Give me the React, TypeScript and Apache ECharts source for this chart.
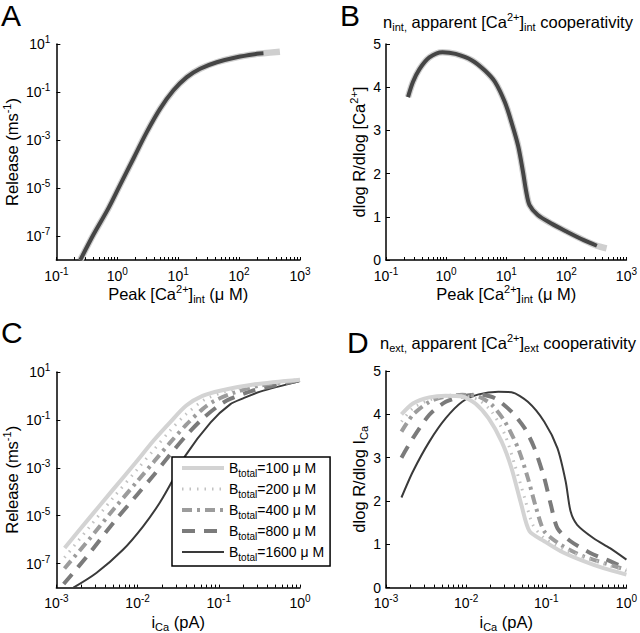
import React, { useEffect, useRef } from 'react';
import * as echarts from 'echarts';

const FONT = '"Liberation Sans", Arial, Helvetica, sans-serif';

// ---- Panel A: log10 peak [Ca2+]int (uM) vs log10 release (ms^-1)
const logPeakCaA = [-0.607, -0.388, -0.142, 0.049, 0.268, 0.486, 0.705, 0.923, 1.142, 1.36, 1.634, 1.96, 2.29, 2.4, 2.67];
const logReleaseA = [-8.0, -6.93, -5.83, -4.86, -3.76, -2.66, -1.69, -0.93, -0.38, -0.03, 0.24, 0.45, 0.59, 0.616, 0.68];
const darkEndLogA = 2.4;

// ---- Panel B: log10 peak [Ca2+]int vs n_int
const logPeakCaB = [-0.634, -0.552, -0.443, -0.279, -0.06, 0.158, 0.432, 0.65, 0.814, 0.978, 1.087, 1.197, 1.279, 1.333, 1.388, 1.525, 1.743, 2.016, 2.29, 2.508, 2.67];
const nIntB = [3.77, 4.12, 4.42, 4.69, 4.81, 4.77, 4.62, 4.38, 4.12, 3.65, 3.19, 2.65, 2.04, 1.58, 1.27, 1.04, 0.85, 0.65, 0.46, 0.33, 0.27];
const darkEndLogB = 2.508;

// ---- Panel C: log10 iCa (pA) vs log10 release, per B_total
const bTotals = [100, 200, 400, 800, 1600];
const logICaC100 = [-2.898, -2.6, -2.3, -2.028, -1.8, -1.6, -1.4, -1.2, -0.983, -0.573, 0];
const logRelC100 = [-6.35, -5.12, -3.9, -2.8, -1.85, -1.1, -0.4, 0.0, 0.22, 0.48, 0.68];
const logICaC200 = [-2.9, -2.6, -2.3, -2.0, -1.8, -1.6, -1.4, -1.17, -0.9, -0.5, 0];
const logRelC200 = [-6.75, -5.5, -4.25, -3.05, -2.25, -1.45, -0.75, -0.15, 0.2, 0.5, 0.67];
const logICaC400 = [-2.9, -2.6, -2.3, -2.0, -1.8, -1.6, -1.4, -1.2, -1.05, -0.8, -0.5, 0];
const logRelC400 = [-7.2, -6.0, -4.75, -3.55, -2.75, -1.95, -1.2, -0.55, -0.2, 0.15, 0.43, 0.66];
const logICaC800 = [-2.91, -2.6, -2.3, -2.0, -1.8, -1.6, -1.4, -1.2, -1.0, -0.86, -0.6, -0.3, 0];
const logRelC800 = [-7.85, -6.6, -5.3, -4.1, -3.3, -2.45, -1.65, -0.95, -0.4, -0.12, 0.2, 0.45, 0.65];
const logICaC1600 = [-2.79, -2.508, -2.18, -1.934, -1.729, -1.565, -1.413, -1.1, -0.86, -0.7, -0.49, 0];
const logRelC1600 = [-8.0, -7.39, -6.42, -5.45, -4.47, -3.5, -2.5, -1.1, -0.35, -0.1, 0.18, 0.62];

// ---- Panel D: log10 iCa (pA) vs n_ext, per B_total
const logICaD100 = [-2.807, -2.664, -2.459, -2.254, -2.049, -1.885, -1.721, -1.557, -1.434, -1.311, -1.209, -1.025, -0.82, -0.533, -0.287, 0];
const nExtD100 = [4.0, 4.25, 4.39, 4.43, 4.41, 4.25, 3.91, 3.37, 2.76, 1.91, 1.3, 1.07, 0.84, 0.61, 0.45, 0.3];
const logICaD200 = [-2.807, -2.664, -2.459, -2.254, -2.049, -1.844, -1.68, -1.516, -1.393, -1.27, -1.168, -1.025, -0.779, -0.451, 0];
const nExtD200 = [3.83, 4.14, 4.33, 4.42, 4.43, 4.33, 4.06, 3.53, 2.83, 2.07, 1.45, 1.14, 0.88, 0.65, 0.38];
const logICaD400 = [-2.807, -2.664, -2.459, -2.254, -2.049, -1.844, -1.68, -1.516, -1.352, -1.23, -1.127, -1.025, -0.82, -0.533, 0];
const nExtD400 = [3.6, 3.99, 4.29, 4.41, 4.45, 4.41, 4.22, 3.83, 3.22, 2.53, 1.84, 1.3, 0.99, 0.72, 0.41];
const logICaD800 = [-2.807, -2.664, -2.459, -2.254, -2.049, -1.844, -1.639, -1.434, -1.27, -1.148, -1.025, -0.943, -0.861, -0.697, -0.451, -0.205, 0];
const nExtD800 = [3.0, 3.45, 3.99, 4.29, 4.41, 4.46, 4.37, 4.06, 3.68, 3.22, 2.53, 1.91, 1.37, 1.07, 0.8, 0.61, 0.44];
const logICaD1600 = [-2.807, -2.664, -2.459, -2.254, -2.049, -1.844, -1.598, -1.434, -1.23, -1.025, -0.861, -0.758, -0.697, -0.615, -0.41, -0.205, 0];
const nExtD1600 = [2.08, 2.68, 3.37, 3.91, 4.29, 4.46, 4.52, 4.51, 4.29, 3.83, 3.22, 2.45, 1.76, 1.45, 1.14, 0.91, 0.645];

// ---- tick labels
const decadesAB = [-1, 0, 1, 2, 3];
const decadesCD = [-3, -2, -1, 0];
const releaseLabelExps = [-7, -5, -3, -1, 1];
const nTicks = [0, 1, 2, 3, 4, 5];

const cLogX = [logICaC100, logICaC200, logICaC400, logICaC800, logICaC1600];
const cLogY = [logRelC100, logRelC200, logRelC400, logRelC800, logRelC1600];
const dLogX = [logICaD100, logICaD200, logICaD400, logICaD800, logICaD1600];
const dY = [nExtD100, nExtD200, nExtD400, nExtD800, nExtD1600];

const p10 = (e: number) => Math.pow(10, e);

const seriesStyles = [
  { color: '#d3d3d3', width: 4, type: 'solid' as any },
  { color: '#c2c2c2', width: 3, type: [1.5, 6] as any },
  { color: '#9c9c9c', width: 4, type: [10, 5, 3, 5] as any },
  { color: '#7b7b7b', width: 4, type: [13, 9] as any },
  { color: '#3a3a3a', width: 2, type: 'solid' as any },
];

const bName = (b: number) => `B_total=${b} μ M`;

function minorTickValues(e0: number, e1: number) {
  const out: number[] = [];
  for (let e = e0; e < e1; e++) {
    for (let k = 1; k <= 9; k++) out.push(k * Math.pow(10, e));
  }
  out.push(Math.pow(10, e1));
  return out;
}

const NAME_SIZE = 16.5;

const richSmall = (base: number) => ({
  p: { fontSize: Math.round(base * 0.68), verticalAlign: 'top', fontFamily: FONT, color: '#000' },
  s: { fontSize: Math.round(base * 0.68), verticalAlign: 'bottom', fontFamily: FONT, color: '#000' },
  b: { fontSize: base, fontFamily: FONT, color: '#000', lineHeight: 21 },
});

const tickRich = {
  b: { fontSize: 14, fontFamily: FONT, color: '#000', lineHeight: 19 },
  p: { fontSize: 10, fontFamily: FONT, color: '#000', verticalAlign: 'top' },
};
const powLabel = (v: number) => `{b|10}{p|${Math.round(Math.log10(v))}}`;

const axisLineStyle = { show: true, lineStyle: { color: '#000', width: 1.5 } };
const nameStyle = { fontSize: NAME_SIZE, fontFamily: FONT, color: '#000', lineHeight: 21, rich: richSmall(NAME_SIZE) };

function logX(grid: number, e0: number, e1: number, name: string, nameGap: number) {
  return {
    type: 'log', logBase: 10, gridIndex: grid, min: p10(e0), max: p10(e1),
    axisLine: axisLineStyle,
    axisTick: { show: true, inside: true, length: 3, customValues: minorTickValues(e0, e1), lineStyle: { color: '#000', width: 1 } },
    axisLabel: { show: true, customValues: (grid < 2 ? decadesAB : decadesCD).map(p10), formatter: powLabel, rich: tickRich, margin: 6, color: '#000' },
    splitLine: { show: false }, minorTick: { show: false },
    name, nameLocation: 'middle', nameGap,
    nameTextStyle: nameStyle,
  };
}

function logY(grid: number, name: string, nameGap: number) {
  return {
    type: 'log', logBase: 10, gridIndex: grid, min: p10(-8), max: p10(1),
    axisLine: axisLineStyle,
    axisTick: { show: true, inside: true, length: 4, customValues: releaseLabelExps.map(p10), lineStyle: { color: '#000', width: 1 } },
    axisLabel: { show: true, customValues: releaseLabelExps.map(p10), formatter: powLabel, rich: tickRich, margin: 6, color: '#000' },
    splitLine: { show: false },
    name, nameLocation: 'middle', nameGap,
    nameTextStyle: nameStyle,
  };
}

function linY(grid: number, name: string, nameGap: number) {
  return {
    type: 'value', gridIndex: grid, min: 0, max: 5, interval: 1,
    axisLine: axisLineStyle,
    axisTick: { show: true, inside: true, length: 4, customValues: nTicks, lineStyle: { color: '#000', width: 1 } },
    axisLabel: { show: true, customValues: nTicks, fontSize: 14, lineHeight: 12, fontFamily: FONT, margin: 5, color: '#000' },
    splitLine: { show: false },
    name, nameLocation: 'middle', nameGap,
    nameTextStyle: nameStyle,
  };
}

const zip = (xs: number[], ys: number[], logYv: boolean) =>
  xs.map((x, i) => [p10(x), logYv ? p10(ys[i]) : ys[i]]);

function buildOption() {
  const series: any[] = [];
  // Panel A
  series.push({
    type: 'line', xAxisIndex: 0, yAxisIndex: 0, symbol: 'none', smooth: 0.35,
    data: zip(logPeakCaA, logReleaseA, true),
    lineStyle: { color: '#cfcfcf', width: 6.5 }, silent: true,
  });
  series.push({
    type: 'line', xAxisIndex: 0, yAxisIndex: 0, symbol: 'none', smooth: 0.35,
    data: zip(logPeakCaA, logReleaseA, true).filter((d) => d[0] <= p10(darkEndLogA) + 1e-9),
    lineStyle: { color: '#454545', width: 4 }, silent: true,
  });
  // Panel B
  series.push({
    type: 'line', xAxisIndex: 1, yAxisIndex: 1, symbol: 'none', smooth: 0.3,
    data: zip(logPeakCaB, nIntB, false),
    lineStyle: { color: '#cfcfcf', width: 6.5 }, silent: true,
  });
  series.push({
    type: 'line', xAxisIndex: 1, yAxisIndex: 1, symbol: 'none', smooth: 0.3,
    data: zip(logPeakCaB, nIntB, false).filter((d) => d[0] <= p10(darkEndLogB) + 1e-9),
    lineStyle: { color: '#454545', width: 4 }, silent: true,
  });
  // Panels C and D
  bTotals.forEach((b, i) => {
    const st = seriesStyles[i];
    series.push({
      name: bName(b), type: 'line', xAxisIndex: 2, yAxisIndex: 2, symbol: 'none', smooth: 0.3,
      data: zip(cLogX[i], cLogY[i], true),
      lineStyle: { color: st.color, width: st.width, type: st.type, cap: 'butt' },
      itemStyle: { color: st.color },
      z: 2 + (4 - i),
    });
    series.push({
      name: bName(b), type: 'line', xAxisIndex: 3, yAxisIndex: 3, symbol: 'none', smooth: 0.25,
      data: zip(dLogX[i], dY[i], false),
      lineStyle: { color: st.color, width: st.width, type: st.type, cap: 'butt' },
      itemStyle: { color: st.color },
      z: 2 + (4 - i),
    });
  });

  return {
    animation: false,
    backgroundColor: '#fff',
    textStyle: { fontFamily: FONT },
    grid: [
      { left: 56, top: 44, width: 244, height: 216 },
      { left: 386, top: 44, width: 244, height: 216 },
      { left: 56, top: 372, width: 244, height: 216 },
      { left: 386, top: 371, width: 244, height: 217 },
    ],
    xAxis: [
      logX(0, -1, 3, 'Peak [Ca{p|2+}]{s|int} (μ M)', 22),
      logX(1, -1, 3, 'Peak [Ca{p|2+}]{s|int} (μ M)', 22),
      logX(2, -3, 0, 'i{s|Ca} (pA)', 19),
      logX(3, -3, 0, 'i{s|Ca} (pA)', 19),
    ],
    yAxis: [
      logY(0, 'Release (ms{p|-1})', 33),
      linY(1, 'dlog R/dlog [Ca{p|2+}]', 13),
      logY(2, 'Release (ms{p|-1})', 33),
      linY(3, 'dlog R/dlog I{s|Ca}', 17),
    ],
    legend: {
      show: true,
      data: bTotals.map((b, i) => ({
        name: bName(b),
        lineStyle: {
          color: seriesStyles[i].color,
          width: seriesStyles[i].width,
          type: seriesStyles[i].type,
          cap: 'butt',
        },
        itemStyle: { opacity: 0, borderWidth: 0 },
      })),
      orient: 'vertical',
      left: 172, top: 457,
      itemWidth: 42, itemHeight: 14, itemGap: 4,
      padding: [4, 6, 4, 8],
      backgroundColor: '#fff', borderColor: '#000', borderWidth: 1.5,
      selectedMode: false,
      itemStyle: { opacity: 0, borderWidth: 0 },
      formatter: (n: string) => {
        const m = n.match(/=(\d+)/);
        return `{b|B}{s|total}{b|=${m ? m[1] : ''} μ M}`;
      },
      textStyle: {
        fontSize: 14, fontFamily: FONT, color: '#000',
        rich: {
          b: { fontSize: 14, fontFamily: FONT, color: '#000', lineHeight: 20 },
          s: { fontSize: 10, fontFamily: FONT, color: '#000', verticalAlign: 'bottom' },
        },
      },
      z: 10,
    },
    graphic: [
      { type: 'text', x: 1, y: 0, style: { text: 'A', font: `30px ${FONT}`, fill: '#000' } },
      { type: 'text', x: 340, y: 0, style: { text: 'B', font: `30px ${FONT}`, fill: '#000' } },
      { type: 'text', x: 1, y: 317, style: { text: 'C', font: `30px ${FONT}`, fill: '#000' } },
      { type: 'text', x: 347, y: 327, style: { text: 'D', font: `30px ${FONT}`, fill: '#000' } },
      {
        type: 'text', x: 508, y: 11,
        style: {
          text: 'n{s|int,} apparent [Ca{p|2+}]{s|int} cooperativity',
          align: 'center', fill: '#000', font: `${NAME_SIZE}px ${FONT}`, lineHeight: 21,
          rich: richSmall(NAME_SIZE),
        },
      },
      {
        type: 'text', x: 508, y: 332,
        style: {
          text: 'n{s|ext,} apparent [Ca{p|2+}]{s|ext} cooperativity',
          align: 'center', fill: '#000', font: `${NAME_SIZE}px ${FONT}`, lineHeight: 21,
          rich: richSmall(NAME_SIZE),
        },
      },
    ],
    series,
  };
}

export default function App() {
  const ref = useRef<HTMLDivElement>(null);
  useEffect(() => {
    const chart = echarts.init(ref.current!, null, { renderer: 'svg' });
    chart.setOption(buildOption() as any);
    return () => chart.dispose();
  }, []);
  return (
    <div
      ref={ref}
      style={{ position: 'absolute', left: 0, top: 0, width: 640, height: 633, background: '#fff' }}
    />
  );
}
